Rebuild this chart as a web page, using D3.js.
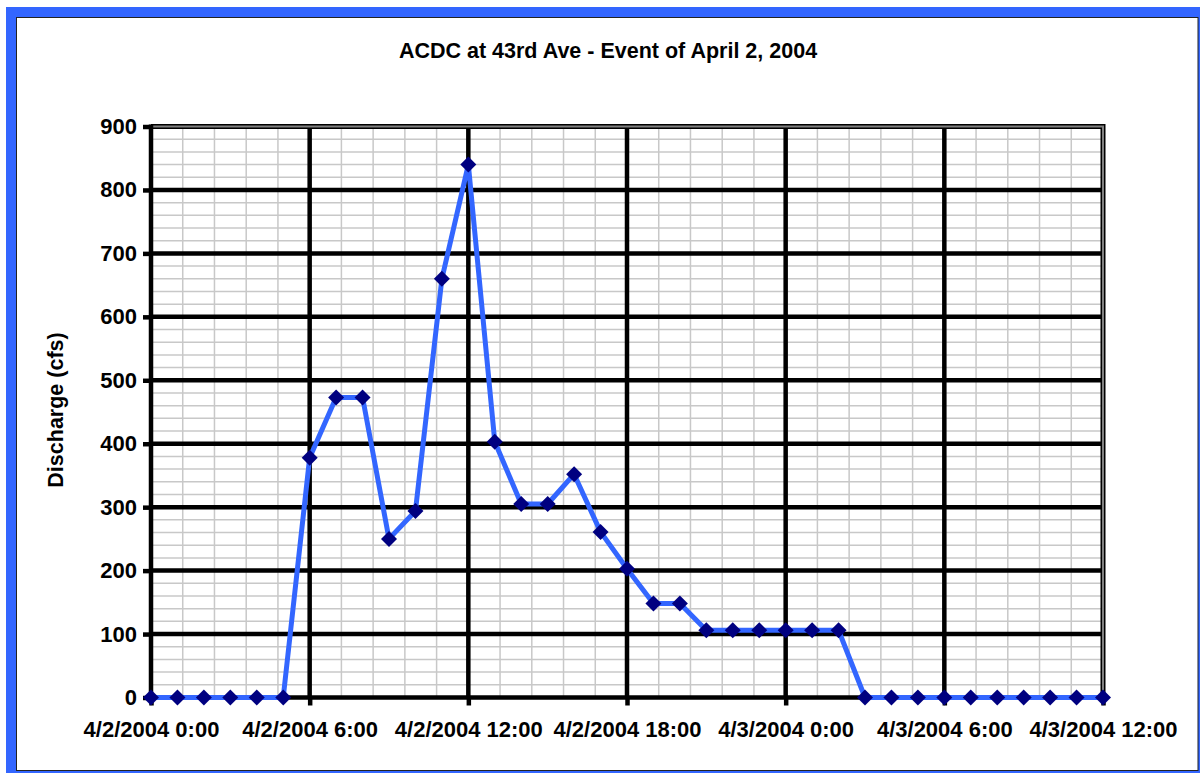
<!DOCTYPE html>
<html><head><meta charset="utf-8">
<script src="https://cdn.jsdelivr.net/npm/d3@7"></script>
<style>
body{margin:0;background:#fff}
svg{display:block}
text{font-family:"Liberation Sans",Arial,sans-serif;font-weight:bold;fill:#000}
</style>
</head><body>
<svg id="c" width="1200" height="773"></svg>
<script>
const title = "ACDC at 43rd Ave - Event of April 2, 2004";
const yLabel = "Discharge (cfs)";
const hours = [0,1,2,3,4,5,6,7,8,9,10,11,12,13,14,15,16,17,18,19,20,21,22,23,24,25,26,27,28,29,30,31,32,33,34,35,36];
const discharge = [0,0,0,0,0,0,378,473,473,250,294,660,840,403,305,305,352,261,203,148,148,106,106,106,106,106,106,0,0,0,0,0,0,0,0,0,0];
const xTickHours = [0,6,12,18,24,30,36];
const xTickLabels = ["4/2/2004 0:00","4/2/2004 6:00","4/2/2004 12:00","4/2/2004 18:00","4/3/2004 0:00","4/3/2004 6:00","4/3/2004 12:00"];
const yTicks = [0,100,200,300,400,500,600,700,800,900];

const svg = d3.select("#c");
const L = 151, R = 1103, T = 126.5, B = 697.5;
const x = d3.scaleLinear().domain([0,36]).range([L,R]);
const y = d3.scaleLinear().domain([0,900]).range([B,T]);
const FONT = '"Liberation Sans",Arial,sans-serif';

// frame
svg.append("rect").attr("x",6).attr("y",7).attr("width",1194).attr("height",766).attr("fill","#3366FF");
svg.append("rect").attr("x",16.5).attr("y",17.5).attr("width",1181.5).attr("height",753).attr("fill","#fff").attr("stroke","#222").attr("stroke-width",1);

// minor grid
const minorX = d3.range(0, 36.0001, 1.2);
const minorY = d3.range(0, 900.0001, 20);
const g = svg.append("g");
g.selectAll(".mx").data(minorX).join("line")
  .attr("x1",d=>x(d)).attr("x2",d=>x(d)).attr("y1",T).attr("y2",B)
  .attr("stroke","#c8c8c8").attr("stroke-width",1.5);
g.selectAll(".my").data(minorY).join("line")
  .attr("x1",L).attr("x2",R).attr("y1",d=>y(d)).attr("y2",d=>y(d))
  .attr("stroke","#c8c8c8").attr("stroke-width",1.5);
// major grid
g.selectAll(".Mx").data(xTickHours.slice(1,-1)).join("line")
  .attr("x1",d=>x(d)).attr("x2",d=>x(d)).attr("y1",T).attr("y2",B)
  .attr("stroke","#000").attr("stroke-width",4.5);
g.selectAll(".My").data(yTicks.slice(1,-1)).join("line")
  .attr("x1",L).attr("x2",R).attr("y1",d=>y(d)).attr("y2",d=>y(d))
  .attr("stroke","#000").attr("stroke-width",4.5);

// plot border top/right
svg.append("path").attr("d",`M${L},${T}H${R}V${B}`).attr("fill","none").attr("stroke","#000").attr("stroke-width",5);
svg.append("path").attr("d",`M${L},${T}H${R}V${B}`).attr("fill","none").attr("stroke","#808080").attr("stroke-width",2);

// axes
const ya = svg.append("g").attr("transform",`translate(${L},0)`)
  .call(d3.axisLeft(y).tickValues(yTicks).tickSize(8).tickPadding(6));
ya.select(".domain").remove();
ya.selectAll(".tick line").attr("stroke","#000").attr("stroke-width",4.5);
ya.selectAll(".tick text").style("font-size","22px").style("font-family",FONT).style("font-weight","bold");

const xa = svg.append("g").attr("transform",`translate(0,${B})`)
  .call(d3.axisBottom(x).tickValues(xTickHours).tickFormat((d,i)=>xTickLabels[i]).tickSize(8).tickPadding(16));
xa.select(".domain").remove();
xa.selectAll(".tick line").attr("stroke","#000").attr("stroke-width",4.5);
xa.selectAll(".tick text").style("font-size","22px").style("font-family",FONT).style("font-weight","bold");

svg.append("line").attr("x1",L).attr("x2",L).attr("y1",T-2).attr("y2",B+2).attr("stroke","#000").attr("stroke-width",4.5);
svg.append("line").attr("x1",L-2).attr("x2",R).attr("y1",B).attr("y2",B).attr("stroke","#000").attr("stroke-width",4.5);

// series
const pts = hours.map((h,i)=>({h, v:discharge[i]}));
svg.append("path").datum(pts)
  .attr("d", d3.line().x(d=>x(d.h)).y(d=>y(d.v)))
  .attr("fill","none").attr("stroke","#3366FF").attr("stroke-width",5).attr("stroke-linejoin","round");
const s = 8;
svg.selectAll(".mk").data(pts).join("path")
  .attr("d", d=>`M${x(d.h)},${y(d.v)-s}L${x(d.h)+s},${y(d.v)}L${x(d.h)},${y(d.v)+s}L${x(d.h)-s},${y(d.v)}Z`)
  .attr("fill","#000080");

// titles
svg.append("text").attr("x",608).attr("y",58).attr("text-anchor","middle").style("font-size","21.5px").text(title);
svg.append("text").attr("transform","translate(63,410) rotate(-90)").attr("text-anchor","middle").style("font-size","21.5px").text(yLabel);
</script>
</body></html>
